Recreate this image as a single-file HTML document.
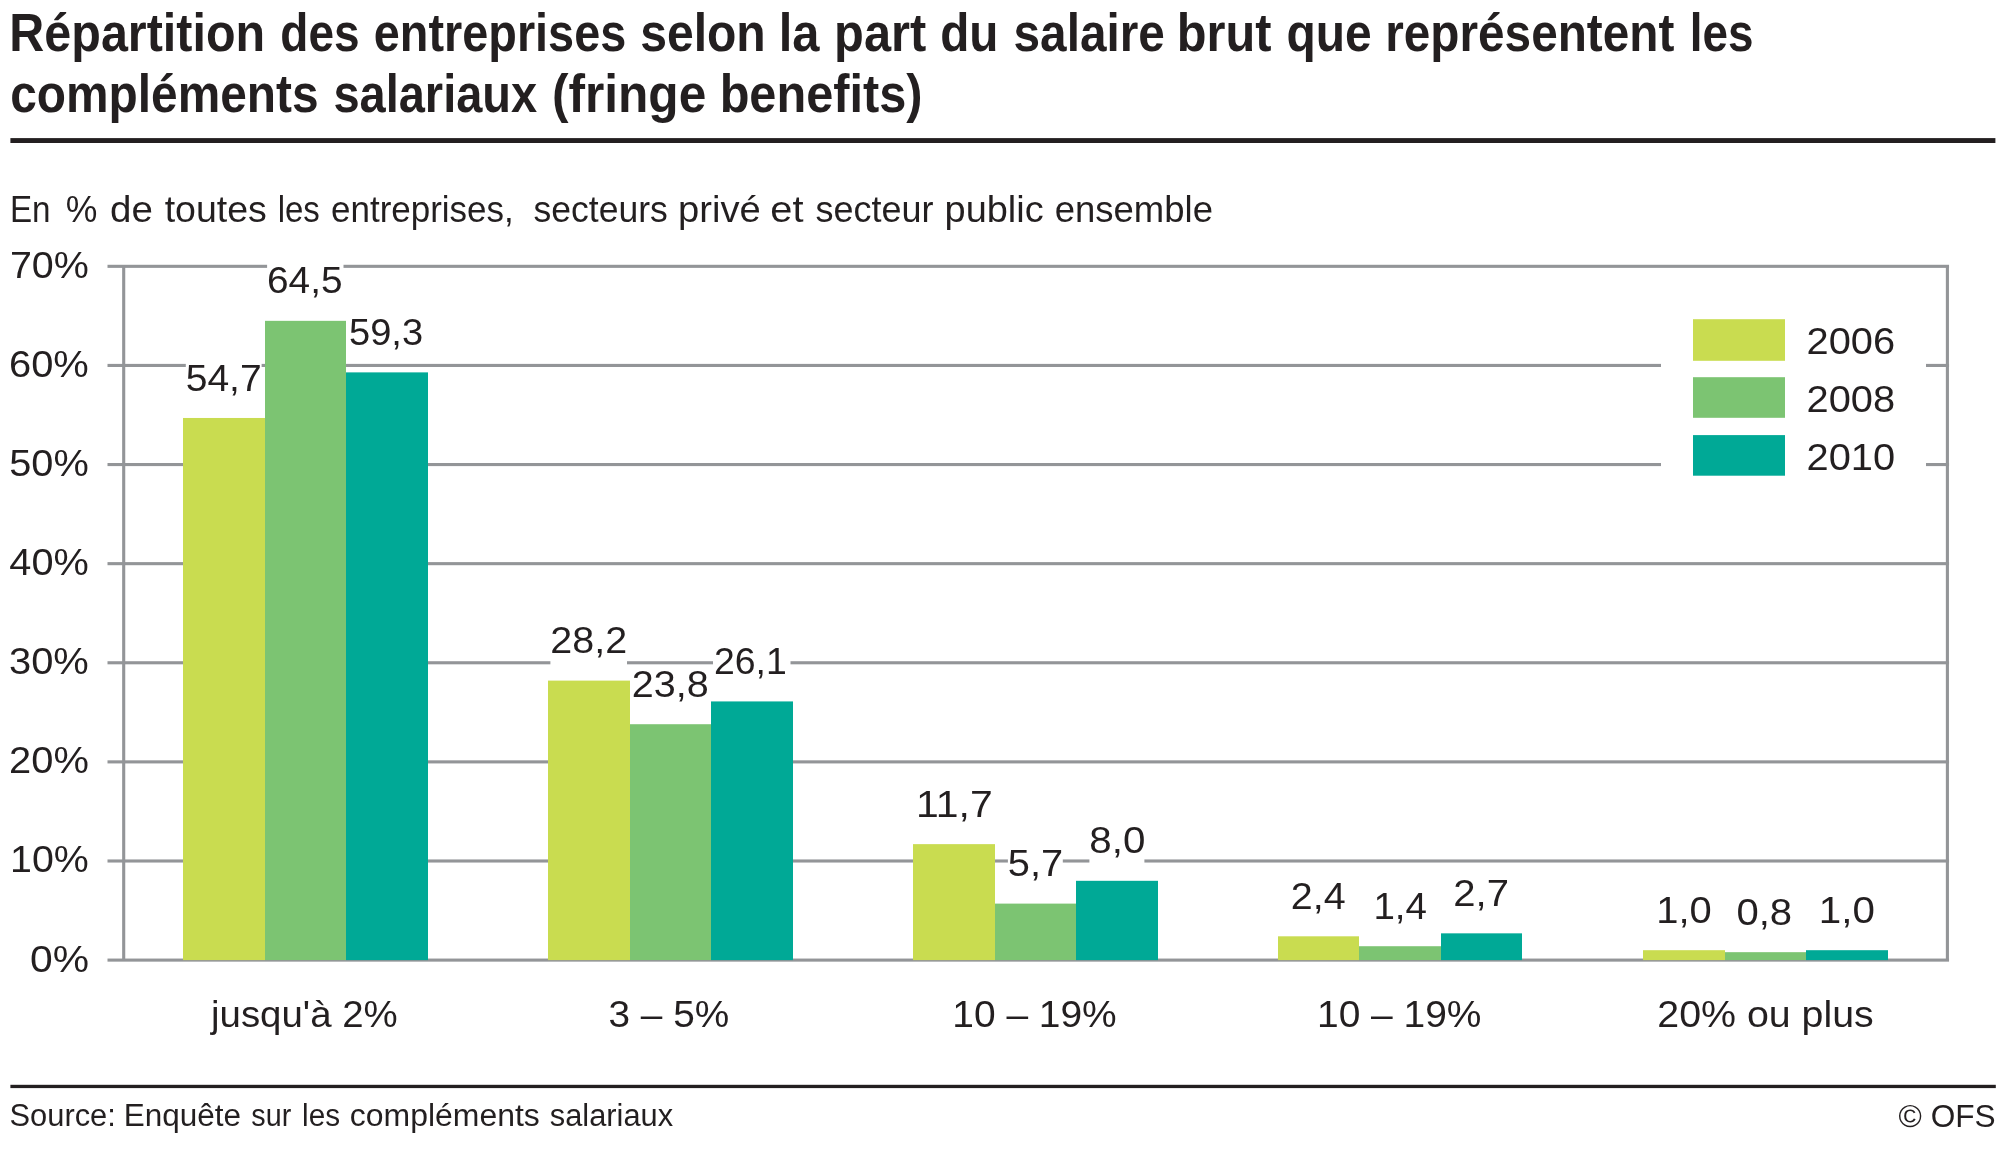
<!DOCTYPE html>
<html lang="fr"><head><meta charset="utf-8"><title>Répartition des entreprises</title>
<style>html,body{margin:0;padding:0;background:#fff}body{width:2002px;height:1151px;overflow:hidden;font-family:"Liberation Sans",sans-serif}</style></head>
<body>
<svg width="2002" height="1151" viewBox="0 0 2002 1151" font-family="Liberation Sans, sans-serif" fill="#231f20" style="display:block;will-change:transform">
<rect width="2002" height="1151" fill="#fff"/>
<rect x="10.4" y="138.1" width="1985.0" height="4.9" fill="#231f20"/>
<rect x="10.4" y="1084.8" width="1985.4" height="3.3" fill="#231f20"/>
<rect x="107.5" y="958.55" width="1841.55" height="3.1" fill="#939598"/>
<rect x="107.5" y="859.44" width="1841.55" height="3.1" fill="#939598"/>
<rect x="107.5" y="760.33" width="1841.55" height="3.1" fill="#939598"/>
<rect x="107.5" y="661.22" width="1841.55" height="3.1" fill="#939598"/>
<rect x="107.5" y="562.11" width="1841.55" height="3.1" fill="#939598"/>
<rect x="107.5" y="463.00" width="1841.55" height="3.1" fill="#939598"/>
<rect x="107.5" y="363.89" width="1841.55" height="3.1" fill="#939598"/>
<rect x="107.5" y="264.78" width="1841.55" height="3.1" fill="#939598"/>
<rect x="185.80" y="360.07" width="75.80" height="43" fill="#fff"/>
<rect x="267.10" y="262.94" width="76.40" height="43" fill="#fff"/>
<rect x="349.10" y="314.48" width="75.00" height="43" fill="#fff"/>
<rect x="550.40" y="622.71" width="76.60" height="43" fill="#fff"/>
<rect x="631.80" y="666.32" width="77.80" height="43" fill="#fff"/>
<rect x="713.00" y="643.52" width="77.50" height="43" fill="#fff"/>
<rect x="917.40" y="786.24" width="74.90" height="43" fill="#fff"/>
<rect x="1007.90" y="845.71" width="54.90" height="43" fill="#fff"/>
<rect x="1089.40" y="822.91" width="55.00" height="43" fill="#fff"/>
<rect x="1290.90" y="878.41" width="55.60" height="43" fill="#fff"/>
<rect x="1374.50" y="888.32" width="53.30" height="43" fill="#fff"/>
<rect x="1453.40" y="875.44" width="55.30" height="43" fill="#fff"/>
<rect x="1657.40" y="892.29" width="55.10" height="43" fill="#fff"/>
<rect x="1736.60" y="894.27" width="56.30" height="43" fill="#fff"/>
<rect x="1820.00" y="892.29" width="55.60" height="43" fill="#fff"/>
<rect x="1661" y="300" width="265" height="195" fill="#fff"/>
<rect x="122.15" y="266.33" width="3.1" height="693.77" fill="#939598"/>
<rect x="1945.85" y="266.33" width="3.1" height="693.77" fill="#939598"/>
<rect x="183" y="417.97" width="82" height="542.13" fill="#c9dc50"/>
<rect x="265" y="320.84" width="81" height="639.26" fill="#7cc472"/>
<rect x="346" y="372.38" width="82" height="587.72" fill="#00a996"/>
<rect x="548" y="680.61" width="82" height="279.49" fill="#c9dc50"/>
<rect x="630" y="724.22" width="81" height="235.88" fill="#7cc472"/>
<rect x="711" y="701.42" width="82" height="258.68" fill="#00a996"/>
<rect x="913" y="844.14" width="82" height="115.96" fill="#c9dc50"/>
<rect x="995" y="903.61" width="81" height="56.49" fill="#7cc472"/>
<rect x="1076" y="880.81" width="82" height="79.29" fill="#00a996"/>
<rect x="1278" y="936.31" width="81" height="23.79" fill="#c9dc50"/>
<rect x="1359" y="946.22" width="82" height="13.88" fill="#7cc472"/>
<rect x="1441" y="933.34" width="81" height="26.76" fill="#00a996"/>
<rect x="1643" y="950.19" width="82" height="9.91" fill="#c9dc50"/>
<rect x="1725" y="952.17" width="81" height="7.93" fill="#7cc472"/>
<rect x="1806" y="950.19" width="82" height="9.91" fill="#00a996"/>
<rect x="1693" y="319.2" width="92" height="41.6" fill="#c9dc50"/>
<rect x="1693" y="377.2" width="92" height="40.6" fill="#7cc472"/>
<rect x="1693" y="435.1" width="92" height="40.6" fill="#00a996"/>
<text x="9.34" y="51.00" font-size="53" font-weight="bold" textLength="255.77" lengthAdjust="spacingAndGlyphs">Répartition</text>
<text x="280.36" y="51.00" font-size="53" font-weight="bold" textLength="79.26" lengthAdjust="spacingAndGlyphs">des</text>
<text x="373.83" y="51.00" font-size="53" font-weight="bold" textLength="252.41" lengthAdjust="spacingAndGlyphs">entreprises</text>
<text x="640.19" y="51.00" font-size="53" font-weight="bold" textLength="125.53" lengthAdjust="spacingAndGlyphs">selon</text>
<text x="778.81" y="51.00" font-size="53" font-weight="bold" textLength="40.75" lengthAdjust="spacingAndGlyphs">la</text>
<text x="834.12" y="51.00" font-size="53" font-weight="bold" textLength="92.13" lengthAdjust="spacingAndGlyphs">part</text>
<text x="940.20" y="51.00" font-size="53" font-weight="bold" textLength="58.28" lengthAdjust="spacingAndGlyphs">du</text>
<text x="1013.60" y="51.00" font-size="53" font-weight="bold" textLength="151.19" lengthAdjust="spacingAndGlyphs">salaire</text>
<text x="1176.72" y="51.00" font-size="53" font-weight="bold" textLength="94.73" lengthAdjust="spacingAndGlyphs">brut</text>
<text x="1286.39" y="51.00" font-size="53" font-weight="bold" textLength="85.33" lengthAdjust="spacingAndGlyphs">que</text>
<text x="1385.20" y="51.00" font-size="53" font-weight="bold" textLength="289.16" lengthAdjust="spacingAndGlyphs">représentent</text>
<text x="1689.84" y="51.00" font-size="53" font-weight="bold" textLength="63.79" lengthAdjust="spacingAndGlyphs">les</text>
<text x="10.19" y="112.20" font-size="53" font-weight="bold" textLength="308.40" lengthAdjust="spacingAndGlyphs">compléments</text>
<text x="333.43" y="112.20" font-size="53" font-weight="bold" textLength="203.72" lengthAdjust="spacingAndGlyphs">salariaux</text>
<text x="551.89" y="112.20" font-size="53" font-weight="bold" textLength="154.36" lengthAdjust="spacingAndGlyphs">(fringe</text>
<text x="719.63" y="112.20" font-size="53" font-weight="bold" textLength="202.90" lengthAdjust="spacingAndGlyphs">benefits)</text>
<text x="9.94" y="222.30" font-size="37.5" font-weight="normal" textLength="40.62" lengthAdjust="spacingAndGlyphs">En</text>
<text x="65.65" y="222.30" font-size="37.5" font-weight="normal" textLength="31.62" lengthAdjust="spacingAndGlyphs">%</text>
<text x="110.05" y="222.30" font-size="37.5" font-weight="normal" textLength="42.82" lengthAdjust="spacingAndGlyphs">de</text>
<text x="164.70" y="222.30" font-size="37.5" font-weight="normal" textLength="102.16" lengthAdjust="spacingAndGlyphs">toutes</text>
<text x="277.66" y="222.30" font-size="37.5" font-weight="normal" textLength="42.16" lengthAdjust="spacingAndGlyphs">les</text>
<text x="331.04" y="222.30" font-size="37.5" font-weight="normal" textLength="182.70" lengthAdjust="spacingAndGlyphs">entreprises,</text>
<text x="533.55" y="222.30" font-size="37.5" font-weight="normal" textLength="134.29" lengthAdjust="spacingAndGlyphs">secteurs</text>
<text x="678.06" y="222.30" font-size="37.5" font-weight="normal" textLength="82.74" lengthAdjust="spacingAndGlyphs">privé</text>
<text x="770.28" y="222.30" font-size="37.5" font-weight="normal" textLength="33.22" lengthAdjust="spacingAndGlyphs">et</text>
<text x="815.54" y="222.30" font-size="37.5" font-weight="normal" textLength="118.00" lengthAdjust="spacingAndGlyphs">secteur</text>
<text x="944.58" y="222.30" font-size="37.5" font-weight="normal" textLength="99.12" lengthAdjust="spacingAndGlyphs">public</text>
<text x="1054.75" y="222.30" font-size="37.5" font-weight="normal" textLength="158.21" lengthAdjust="spacingAndGlyphs">ensemble</text>
<text x="9.51" y="1126.30" font-size="31" font-weight="normal" textLength="106.32" lengthAdjust="spacingAndGlyphs">Source:</text>
<text x="123.75" y="1126.30" font-size="31" font-weight="normal" textLength="117.27" lengthAdjust="spacingAndGlyphs">Enquête</text>
<text x="251.37" y="1126.30" font-size="31" font-weight="normal" textLength="39.90" lengthAdjust="spacingAndGlyphs">sur</text>
<text x="302.08" y="1126.30" font-size="31" font-weight="normal" textLength="38.03" lengthAdjust="spacingAndGlyphs">les</text>
<text x="349.87" y="1126.30" font-size="31" font-weight="normal" textLength="189.93" lengthAdjust="spacingAndGlyphs">compléments</text>
<text x="549.81" y="1126.30" font-size="31" font-weight="normal" textLength="123.35" lengthAdjust="spacingAndGlyphs">salariaux</text>
<text x="30.02" y="971.50" font-size="37.5" font-weight="normal" textLength="58.99" lengthAdjust="spacingAndGlyphs">0%</text>
<text x="10.05" y="872.39" font-size="37.5" font-weight="normal" textLength="78.76" lengthAdjust="spacingAndGlyphs">10%</text>
<text x="9.07" y="773.28" font-size="37.5" font-weight="normal" textLength="79.75" lengthAdjust="spacingAndGlyphs">20%</text>
<text x="8.97" y="674.17" font-size="37.5" font-weight="normal" textLength="79.86" lengthAdjust="spacingAndGlyphs">30%</text>
<text x="9.34" y="575.06" font-size="37.5" font-weight="normal" textLength="79.48" lengthAdjust="spacingAndGlyphs">40%</text>
<text x="9.28" y="475.95" font-size="37.5" font-weight="normal" textLength="79.55" lengthAdjust="spacingAndGlyphs">50%</text>
<text x="8.97" y="376.84" font-size="37.5" font-weight="normal" textLength="79.86" lengthAdjust="spacingAndGlyphs">60%</text>
<text x="9.90" y="277.73" font-size="37.5" font-weight="normal" textLength="78.92" lengthAdjust="spacingAndGlyphs">70%</text>
<text x="211.02" y="1026.70" font-size="37.5" font-weight="normal" textLength="186.70" lengthAdjust="spacingAndGlyphs">jusqu'à 2%</text>
<text x="608.53" y="1026.70" font-size="37.5" font-weight="normal" textLength="120.64" lengthAdjust="spacingAndGlyphs">3 – 5%</text>
<text x="952.29" y="1026.70" font-size="37.5" font-weight="normal" textLength="164.44" lengthAdjust="spacingAndGlyphs">10 – 19%</text>
<text x="1316.99" y="1026.70" font-size="37.5" font-weight="normal" textLength="164.44" lengthAdjust="spacingAndGlyphs">10 – 19%</text>
<text x="1657.30" y="1026.70" font-size="37.5" font-weight="normal" textLength="216.47" lengthAdjust="spacingAndGlyphs">20% ou plus</text>
<text x="1806.58" y="354.20" font-size="37.5" font-weight="normal" textLength="88.55" lengthAdjust="spacingAndGlyphs">2006</text>
<text x="1806.58" y="412.20" font-size="37.5" font-weight="normal" textLength="88.55" lengthAdjust="spacingAndGlyphs">2008</text>
<text x="1806.58" y="470.20" font-size="37.5" font-weight="normal" textLength="88.55" lengthAdjust="spacingAndGlyphs">2010</text>
<text x="1898.58" y="1126.50" font-size="31" font-weight="normal" textLength="97.03" lengthAdjust="spacingAndGlyphs">© OFS</text>
<text x="185.72" y="390.57" font-size="37.5" font-weight="normal" textLength="75.96" lengthAdjust="spacingAndGlyphs">54,7</text>
<text x="267.03" y="293.44" font-size="37.5" font-weight="normal" textLength="75.50" lengthAdjust="spacingAndGlyphs">64,5</text>
<text x="349.07" y="344.98" font-size="37.5" font-weight="normal" textLength="74.04" lengthAdjust="spacingAndGlyphs">59,3</text>
<text x="550.30" y="653.21" font-size="37.5" font-weight="normal" textLength="76.81" lengthAdjust="spacingAndGlyphs">28,2</text>
<text x="631.69" y="696.82" font-size="37.5" font-weight="normal" textLength="76.96" lengthAdjust="spacingAndGlyphs">23,8</text>
<text x="714.01" y="674.02" font-size="37.5" font-weight="normal" textLength="72.79" lengthAdjust="spacingAndGlyphs">26,1</text>
<text x="916.13" y="816.74" font-size="37.5" font-weight="normal" textLength="76.58" lengthAdjust="spacingAndGlyphs">11,7</text>
<text x="1007.78" y="876.21" font-size="37.5" font-weight="normal" textLength="55.29" lengthAdjust="spacingAndGlyphs">5,7</text>
<text x="1089.25" y="853.41" font-size="37.5" font-weight="normal" textLength="56.08" lengthAdjust="spacingAndGlyphs">8,0</text>
<text x="1290.79" y="908.91" font-size="37.5" font-weight="normal" textLength="54.91" lengthAdjust="spacingAndGlyphs">2,4</text>
<text x="1373.42" y="918.82" font-size="37.5" font-weight="normal" textLength="53.55" lengthAdjust="spacingAndGlyphs">1,4</text>
<text x="1453.26" y="905.94" font-size="37.5" font-weight="normal" textLength="55.73" lengthAdjust="spacingAndGlyphs">2,7</text>
<text x="1656.21" y="922.79" font-size="37.5" font-weight="normal" textLength="55.51" lengthAdjust="spacingAndGlyphs">1,0</text>
<text x="1736.47" y="924.77" font-size="37.5" font-weight="normal" textLength="55.65" lengthAdjust="spacingAndGlyphs">0,8</text>
<text x="1818.78" y="922.79" font-size="37.5" font-weight="normal" textLength="56.05" lengthAdjust="spacingAndGlyphs">1,0</text>
</svg>
</body></html>
